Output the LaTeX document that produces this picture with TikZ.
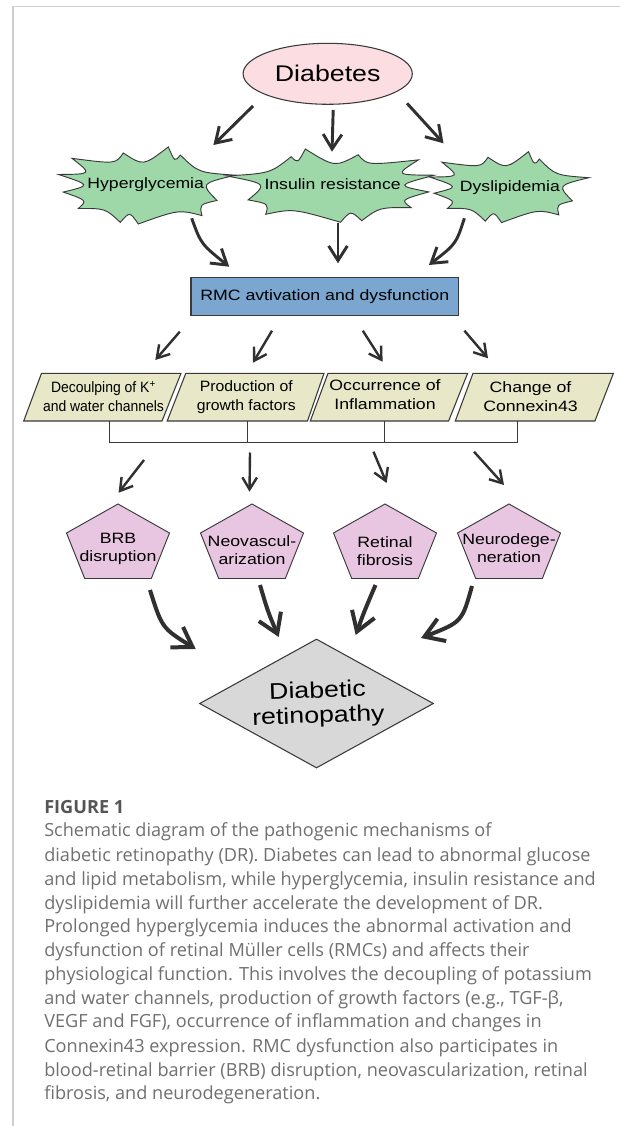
\documentclass[tikz,border=0pt]{standalone}
\usepackage{fontspec}
\setmainfont{Liberation Sans}
\newfontfamily\fw[FakeStretch=1.18]{Liberation Sans}
\newfontfamily\fm[FakeStretch=1.05]{Liberation Sans}
\newfontfamily\fn[FakeStretch=0.93]{Liberation Sans}
\newfontfamily\capfont{Open Sans}
\usetikzlibrary{arrows.meta,shapes.geometric}
\definecolor{linec}{HTML}{3A3A3A}
\definecolor{arrc}{HTML}{303030}
\definecolor{pinkf}{HTML}{FBDDE2}
\definecolor{greenf}{HTML}{9ED8A8}
\definecolor{bluef}{HTML}{7BA6D0}
\definecolor{beigef}{HTML}{E8E7C7}
\definecolor{pentf}{HTML}{E8C6E2}
\definecolor{diamf}{HTML}{D8D8D8}
\definecolor{framec}{HTML}{CFCFCF}
\definecolor{capc}{HTML}{707070}
\definecolor{capb}{HTML}{555555}
\begin{document}
\begin{tikzpicture}[x=0.75pt,y=-0.75pt,
  every node/.style={inner sep=0pt},
  outl/.style={draw=linec, line width=0.8pt},
  cloudst/.style={fill=greenf, draw=linec, line width=0.7pt},
  pgram/.style={fill=beigef, draw=linec, line width=0.8pt},
  pent/.style={fill=pentf, draw=linec, line width=0.7pt},
  arr/.style={draw=arrc, line width=2.2pt, -{Straight Barb[length=11pt,width=14pt]}},
  arrs/.style={draw=arrc, line width=1.8pt, -{Straight Barb[length=9pt,width=11pt]}},
  arrb/.style={draw=arrc, line width=3pt, -{Straight Barb[length=14pt,width=18pt]}},
  brk/.style={draw=linec, line width=0.9pt},
  lbl/.style={font=\fw\fontsize{11.2}{13}\selectfont, align=center},
  plbl/.style={font=\fw\fontsize{11.25}{14.25}\selectfont, align=center},
  pelbl/.style={font=\fw\fontsize{11.25}{13.5}\selectfont, align=center},
  capl/.style={anchor=base west, font=\capfont\fontsize{13.6}{18}\selectfont, text=capc},
  starburst/.pic={
    \draw[cloudst] (-84.7,-10.7) .. controls (-51,-11) .. (-71.3,-26.7)
      .. controls (-27.6,-21) .. (-20,-32)
      .. controls (0,-19) .. (25,-38)
      .. controls (31.5,-23) .. (37,-30)
      .. controls (55,-12.6) .. (92,-10)
      .. controls (57,-1.7) .. (73.7,15)
      .. controls (56,19) .. (58.7,30)
      .. controls (35.4,24) .. (-5,38.3)
      .. controls (-13.6,26) .. (-23,36.7)
      .. controls (-38,22.8) .. (-65,23)
      .. controls (-56,15) .. (-80,6.7)
      .. controls (-52,0) .. (-84.7,-10.7) -- cycle;
  }]
\useasboundingbox (0,0) rectangle (620,1126);
\fill[white] (0,0) rectangle (620,1126);
% frame
\draw[framec, line width=0.9pt] (13,1126) -- (13,6.7) -- (620,6.7);

% Diabetes
\node[ellipse, outl, fill=pinkf, minimum width=126.9pt, minimum height=45.75pt,
  font=\fw\fontsize{17}{19}\selectfont] (diab) at (327.7,73.8) {Diabetes};

% clouds
\pic[xscale=1.0,yscale=1.01] at (143.3,185.3) {starburst};
\pic[xscale=-1.175,yscale=0.96] at (334.7,185.5) {starburst};
\pic[xscale=0.9,yscale=0.93] at (506,187) {starburst};
\node[lbl] (hyper) at (145.7,184.3) {Hyperglycemia};
\node[lbl] (insul) at (332.6,184.3) {Insulin resistance};
\node[lbl] (dysl) at (509.9,187.7) {Dyslipidemia};

% RMC
\node[rectangle, outl, fill=bluef, minimum width=200.6pt, minimum height=28.5pt,
  font=\fw\fontsize{11.25}{13}\selectfont] (rmc) at (324.75,296.3) {RMC avtivation and dysfunction};

% parallelograms
\draw[pgram] (41.5,373.3) -- (181,373.3) -- (162,421) -- (23.7,421) -- cycle;
\draw[pgram] (185.8,373.3) -- (324,373.3) -- (307.5,421) -- (167.2,421) -- cycle;
\draw[pgram] (328,373.3) -- (467.6,373.3) -- (448.6,421) -- (310.3,421) -- cycle;
\draw[pgram] (473,373.3) -- (613.4,373.3) -- (594.9,421) -- (455.3,421) -- cycle;
\node[plbl, font=\fn\fontsize{11.25}{14.25}\selectfont] (p1) at (103.5,396.2) {Decoulping of K\textsuperscript{+}\\and water channels};
\node[plbl, font=\fm\fontsize{11.25}{14.25}\selectfont] (p2) at (246.3,397.5) {Production of\\growth factors};
\node[plbl] (p3) at (385,395) {Occurrence of\\Inflammation};
\node[plbl] (p4) at (530.5,396.7) {Change of\\Connexin43};

% bracket
\coordinate (p1b) at (109.5,421);
\coordinate (p2b) at (247.8,421);
\coordinate (p3b) at (384.2,421);
\coordinate (p4b) at (517.8,421);
\draw[brk] (p1b) -- (109.5,442.7) -- (517.8,442.7) -- (p4b);
\draw[brk] (p2b) -- (247.8,442.7);
\draw[brk] (p3b) -- (384.2,442.7);

% pentagons
\foreach \cx in {118,252,385,509}{
  \draw[pent] (\cx,504) -- (\cx+51.5,533) -- (\cx+33.3,578.5) -- (\cx-33.3,578.5) -- (\cx-51.5,533) -- cycle;
}
\node[pelbl] (e1) at (118,548.5) {BRB\\disruption};
\node[pelbl] (e2) at (252,550) {Neovascul-\\arization};
\node[pelbl] (e3) at (385,551) {Retinal\\fibrosis};
\node[pelbl] (e4) at (509,548.5) {Neurodege-\\neration};

% diamond
\node[diamond, outl, fill=diamf, minimum width=175.5pt, minimum height=96.75pt] (dr) at (316.5,703.5) {};
\node[rotate=2, align=center, font=\fw\fontsize{17}{18.75}\selectfont] (drt) at (318,704.5) {Diabetic\\retinopathy};

% arrow coordinates
\coordinate (a1s) at (253,106);   \coordinate (a1e) at (213.4,145);
\coordinate (a2s) at (333.2,110); \coordinate (a2e) at (332,151.7);
\coordinate (a3s) at (407,103.3); \coordinate (a3e) at (443.5,143.3);
\coordinate (b1s) at (191.7,218.3); \coordinate (b1e) at (229.2,266.7);
\coordinate (b2s) at (338,222.7);   \coordinate (b2e) at (338,263.3);
\coordinate (b3s) at (464.4,218.3); \coordinate (b3e) at (428.9,265);
\coordinate (r1s) at (179.8,331.7); \coordinate (r1e) at (155.3,360);
\coordinate (r2s) at (272,330.7);   \coordinate (r2e) at (253,362.7);
\coordinate (r3s) at (362.8,330.7); \coordinate (r3e) at (382.6,361.7);
\coordinate (r4s) at (464.4,330.7); \coordinate (r4e) at (488,358.3);
\coordinate (q1s) at (144,460);     \coordinate (q1e) at (118.6,492.7);
\coordinate (q2s) at (250,452.5);   \coordinate (q2e) at (249.5,491.7);
\coordinate (q3s) at (373.5,451.7); \coordinate (q3e) at (386.6,483);
\coordinate (q4s) at (474,451.7);   \coordinate (q4e) at (504,485);
\coordinate (c1s) at (150,590);     \coordinate (c1e) at (195.7,649);
\coordinate (c2s) at (260,585);     \coordinate (c2e) at (278.7,637);
\coordinate (c3s) at (375.5,585);   \coordinate (c3e) at (355.7,635);
\coordinate (c4s) at (472,586);     \coordinate (c4e) at (421,638);

\draw[arr] (a1s) -- (a1e);
\draw[arr] (a2s) -- (a2e);
\draw[arr] (a3s) -- (a3e);
\draw[arr] (b1s) .. controls (201,244) .. (b1e);
\draw[arr] (b2s) -- (b2e);
\draw[arr] (b3s) .. controls (456,244) .. (b3e);
\draw[arrs] (r1s) -- (r1e);
\draw[arrs] (r2s) -- (r2e);
\draw[arrs] (r3s) -- (r3e);
\draw[arrs] (r4s) -- (r4e);
\draw[arrs] (q1s) -- (q1e);
\draw[arrs] (q2s) -- (q2e);
\draw[arrs] (q3s) -- (q3e);
\draw[arrs] (q4s) -- (q4e);
\draw[arrb] (c1s) .. controls (162,628) .. (c1e);
\draw[arrb] (c2s) .. controls (268,612) .. (c2e);
\draw[arrb] (c3s) .. controls (364,612) .. (c3e);
\draw[arrb] (c4s) .. controls (462,622) .. (c4e);

% caption
\node[anchor=base west, font=\capfont\bfseries\fontsize{13.6}{18}\selectfont, text=capb] (fig) at (44,813) {FIGURE 1};
\node[capl] (cap1) at (44,836) {Schematic diagram of the pathogenic mechanisms of};
\node[capl] (cap2) at (44,861) {diabetic retinopathy (DR). Diabetes can lead to abnormal glucose};
\node[capl] (cap3) at (44,885.3) {and lipid metabolism, while hyperglycemia, insulin resistance and};
\node[capl] (cap4) at (44,909.3) {dyslipidemia will further accelerate the development of DR.};
\node[capl] (cap5) at (44,932.7) {Prolonged hyperglycemia induces the abnormal activation and};
\node[capl] (cap6) at (44,956.7) {dysfunction of retinal Müller cells (RMCs) and affects their};
\node[capl] (cap7) at (44,980.3) {physiological function. This involves the decoupling of potassium};
\node[capl] (cap8) at (44,1004.3) {and water channels, production of growth factors (e.g., TGF-β,};
\node[capl] (cap9) at (44,1027.7) {VEGF and FGF), occurrence of inflammation and changes in};
\node[capl] (cap10) at (44,1052) {Connexin43 expression. RMC dysfunction also participates in};
\node[capl] (cap11) at (44,1076) {blood-retinal barrier (BRB) disruption, neovascularization, retinal};
\node[capl] (cap12) at (44,1099.3) {fibrosis, and neurodegeneration.};
\end{tikzpicture}
\end{document}
